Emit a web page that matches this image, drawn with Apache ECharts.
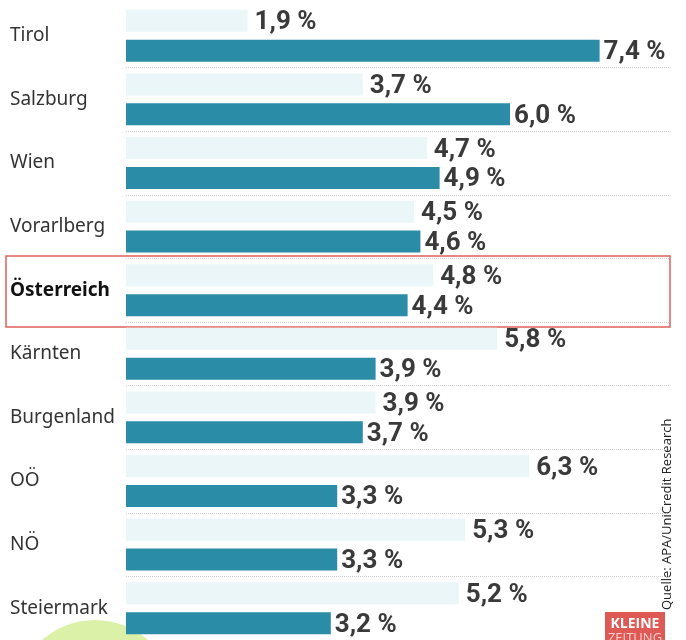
<!DOCTYPE html>
<html>
<head>
<meta charset="utf-8">
<script src="https://cdn.jsdelivr.net/npm/echarts@6/dist/echarts.min.js"></script>
<style>
  html, body { margin: 0; padding: 0; background: #fff; }
  #chart { width: 686px; height: 640px; }
</style>
</head>
<body>
<div id="chart"></div>
<script>
// Regionen, von oben nach unten
var regions = ['Tirol', 'Salzburg', 'Wien', 'Vorarlberg', 'Österreich', 'Kärnten', 'Burgenland', 'OÖ', 'NÖ', 'Steiermark']
// heller Balken (oben) und Türkis-Balken (unten), in Prozent
var lightValues = [1.9, 3.7, 4.7, 4.5, 4.8, 5.8, 3.9, 6.3, 5.3, 5.2]
var tealValues = [7.4, 6.0, 4.9, 4.6, 4.4, 3.9, 3.7, 3.3, 3.3, 3.2]

function pct (v) {
	return v.toFixed(1).replace('.', ',') + ' %'
}

var labelFont = {
	fontFamily: 'Roboto, sans-serif',
	fontWeight: 'bold',
	fontSize: 26,
	color: '#3a3a3a'
}

var myChart = echarts.init(document.getElementById('chart'))

myChart.setOption({
	backgroundColor: '#fff',
	animation: false,
	grid: { left: 126, right: 16, top: 4, bottom: 0 },
	xAxis: {
		type: 'value', min: 0, max: 8.5,
		show: false
	},
	yAxis: {
		type: 'category',
		data: regions,
		inverse: true,
		axisLine: { show: false },
		axisTick: { show: false },
		splitLine: {
			show: true,
			// keine Linie über Tirol
			interval: function (i) { return i > 0 },
			lineStyle: { type: 'dotted', color: '#d0d0d0', width: 1 }
		},
		axisLabel: {
			align: 'left',
			margin: 116,
			fontFamily: '"Noto Sans", sans-serif',
			fontSize: 19,
			color: '#333',
			formatter: function (v) {
				return v === 'Österreich' ? '{b|' + v + '}' : v
			},
			rich: {
				b: { fontFamily: '"Noto Sans", sans-serif', fontSize: 19, fontWeight: 'bold', color: '#111' }
			}
		}
	},
	series: [
		{
			type: 'bar',
			data: lightValues,
			barWidth: 22,
			barGap: '36%',
			itemStyle: { color: '#eaf6f7' },
			label: Object.assign({
				show: true, position: 'right', distance: 7, offset: [0, 2],
				formatter: function (p) { return pct(p.value) }
			}, labelFont)
		},
		{
			type: 'bar',
			data: tealValues,
			barWidth: 22,
			itemStyle: { color: '#2a8ca6' },
			label: Object.assign({
				show: true, position: 'right', distance: 4, offset: [0, 2],
				formatter: function (p) { return pct(p.value) }
			}, labelFont)
		}
	],
	graphic: [
		{
			type: 'circle', shape: { cx: 95, cy: 700, r: 80 }, z: -1,
			style: { fill: '#dcf1a8' }
		},
		{
			type: 'rect', shape: { x: 6, y: 256, width: 664, height: 71 },
			style: { fill: 'none', stroke: '#e0605a', lineWidth: 1.5 }
		},
		{
			type: 'text', x: 667, y: 610, rotation: Math.PI / 2,
			style: {
				text: 'Quelle: APA/UniCredit Research',
				fontFamily: '"Open Sans", sans-serif', fontSize: 13, fill: '#222',
				textAlign: 'left', textVerticalAlign: 'middle'
			}
		},
		{
			type: 'rect', shape: { x: 605, y: 612, width: 60, height: 30 },
			style: { fill: '#df5a55' }
		},
		{
			type: 'text', x: 635, y: 624,
			style: {
				text: 'KLEINE', fontFamily: '"Open Sans", sans-serif', fontWeight: 'bold',
				fontSize: 14, fill: '#fff', textAlign: 'center', textVerticalAlign: 'middle'
			}
		},
		{
			type: 'text', x: 635, y: 638,
			style: {
				text: 'ZEITUNG', fontFamily: '"Open Sans", sans-serif',
				fontSize: 13, fill: '#f6d0ce', textAlign: 'center', textVerticalAlign: 'middle'
			}
		}
	]
})
</script>
</body>
</html>
